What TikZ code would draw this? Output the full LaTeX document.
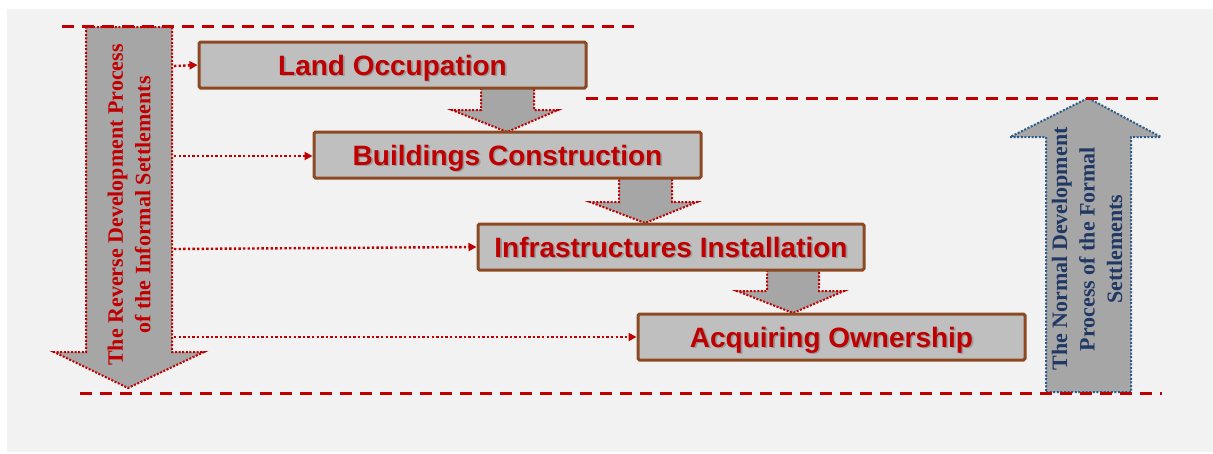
\documentclass[tikz,border=0pt]{standalone}
\usepackage{fontspec}
\setmainfont{Liberation Serif}
\setsansfont{Liberation Sans}
\usetikzlibrary{arrows.meta}
\definecolor{bg}{HTML}{F2F2F2}
\definecolor{dred}{HTML}{C00000}
\definecolor{boxfill}{HTML}{BFBFBF}
\definecolor{boxline}{HTML}{8C4A22}
\definecolor{arrfill}{HTML}{A6A6A6}
\definecolor{navyline}{HTML}{2E5C8A}
\definecolor{navytext}{HTML}{203864}
\begin{document}
\begin{tikzpicture}[x=1pt,y=-1pt,
  stagebox/.style={draw=boxline, line width=3pt, fill=boxfill, rounded corners=1.5pt,
    minimum width=387pt, minimum height=46pt, inner sep=0pt},
  stagetext/.style={font=\sffamily\bfseries\fontsize{28}{32}\selectfont, text=dred,
    inner sep=0pt, text height=20pt, text depth=0pt},
  shadowtext/.style={stagetext, text=black!40},
  redarrow/.style={fill=arrfill, draw=dred, line width=2pt, dash pattern=on 2pt off 1.6pt},
  bluearrow/.style={fill=arrfill, draw=navyline, line width=2pt, dash pattern=on 2pt off 1.6pt},
  guide/.style={draw=dred, line width=3pt, dash pattern=on 12pt off 8pt},
  conn/.style={draw=dred, line width=2.4pt, dash pattern=on 2.4pt off 2.2pt,
    -{Triangle[length=8pt,width=8pt]}},
  sidetext/.style={font=\rmfamily\bfseries\fontsize{22}{27.5}\selectfont, align=center,
    rotate=90, inner sep=0pt}
]
\useasboundingbox (0,0) rectangle (1213,453);
\fill[white] (0,0) rectangle (1213,453);
\fill[bg] (7,9) rectangle (1213,452);

% big side arrows
\path[redarrow] (86,27) -- (172,27) -- (172,352) -- (204,352) -- (128,388) -- (54,352) -- (86,352) -- cycle;
\path[bluearrow] (1046,392) -- (1131,392) -- (1131,137) -- (1161,137) -- (1088,98) -- (1010,137) -- (1046,137) -- cycle;

\node[sidetext, text=dred] (revtext) at (129,205) {The Reverse Development Process\\of the Informal Settlements};
\node[sidetext, text=navytext] (normtext) at (1087,249) {The Normal Development\\Process of the Formal\\Settlements};

% small arrows between boxes
\path[redarrow] (481,88) -- (534,88) -- (534,110) -- (558,110) -- (507,132) -- (452,110) -- (481,110) -- cycle;
\path[redarrow] (619,178) -- (672,178) -- (672,202) -- (697,202) -- (645,223) -- (590,202) -- (619,202) -- cycle;
\path[redarrow] (767,270) -- (819,270) -- (819,291) -- (844,291) -- (793,313) -- (737,291) -- (767,291) -- cycle;

% boxes
\node[stagebox] (land) at (392.5,65) {};
\node[shadowtext] (landsh) at ([shift={(1.6,1.6)}]land.center) {Land Occupation};
\node[stagetext] (landtx) at (land.center) {Land Occupation};

\node[stagebox] (build) at (507.5,155) {};
\node[shadowtext] (buildsh) at ([shift={(1.6,1.6)}]build.center) {Buildings Construction};
\node[stagetext] (buildtx) at (build.center) {Buildings Construction};

\node[stagebox, minimum width=386pt] (infra) at (671,247) {};
\node[shadowtext] (infrash) at ([shift={(1.6,1.6)}]infra.center) {Infrastructures Installation};
\node[stagetext] (infratx) at (infra.center) {Infrastructures Installation};

\node[stagebox] (own) at (831.5,337) {};
\node[shadowtext] (ownsh) at ([shift={(1.6,1.6)}]own.center) {Acquiring Ownership};
\node[stagetext] (owntx) at (own.center) {Acquiring Ownership};

% connectors
\coordinate (c1) at (174,66);
\coordinate (c2) at (174,156);
\coordinate (c3) at (174,249);
\coordinate (c4) at (174,337);
\draw[conn] (c1) -- (land.west);
\draw[conn] (c2) -- (c2 -| build.west);
\draw[conn] (c3) -- (infra.west);
\draw[conn] (c4) -- (own.west);

% guide lines
\coordinate (g1a) at (62,26);  \coordinate (g1b) at (638,26);
\coordinate (g2a) at (586,98); \coordinate (g2b) at (1162,98);
\coordinate (g3a) at (80,393); \coordinate (g3b) at (1162,393);
\draw[guide] (g1a) -- (g1b);
\draw[guide] (g2a) -- (g2b);
\draw[guide] (g3a) -- (g3b);
\end{tikzpicture}
\end{document}
